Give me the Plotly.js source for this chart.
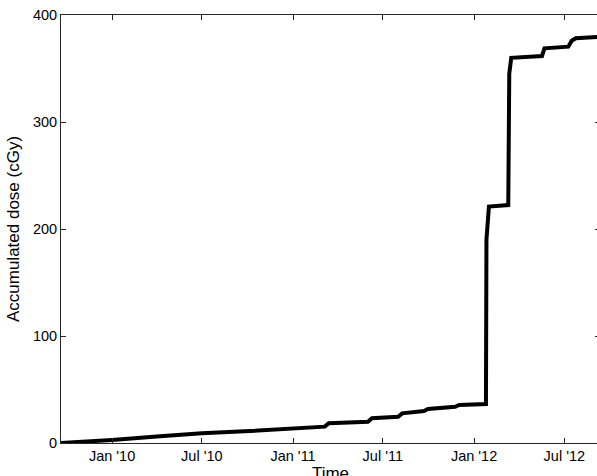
<!DOCTYPE html>
<html>
<head>
<meta charset="utf-8">
<script src="https://cdn.plot.ly/plotly-3.0.1.min.js"></script>
<style>
html, body { margin: 0; padding: 0; overflow: hidden; background: #fff; }
#chart { width: 610px; height: 490px; }
</style>
</head>
<body>
<div id="chart"></div>
<script>
// Accumulated dose time series
const dates = [
  '2009-09-20','2009-11-01','2010-01-01','2010-04-01','2010-07-01','2010-10-06',
  '2011-01-01','2011-03-06','2011-03-14','2011-06-01','2011-06-09','2011-08-01',
  '2011-08-09','2011-09-22','2011-09-30','2011-11-24','2011-12-02','2012-01-25',
  '2012-01-26','2012-01-28','2012-01-31','2012-03-10','2012-03-12','2012-03-16',
  '2012-05-17','2012-05-22','2012-07-09','2012-07-16','2012-07-24','2012-09-12'
];
const doses = [
  0, 1, 2.8, 6, 9, 11.2,
  13.5, 15.3, 18.4, 19.9, 23.1, 24.6,
  27.7, 29.9, 31.8, 33.9, 35.5, 36.4,
  190, 205, 221, 222.4, 345, 360,
  361.7, 368.9, 370.4, 376, 378.3, 379.6
];
const xTickVals = ['2010-01-01','2010-07-01','2011-01-01','2011-07-01','2012-01-01','2012-07-01'];
const xTickText = ["Jan '10","Jul '10","Jan '11","Jul '11","Jan '12","Jul '12"];
const yTickVals = [0, 100, 200, 300, 400];
const xRange = ['2009-09-20', '2012-09-11'];
const yRange = [0, 400];

const FONT = 'Liberation Sans, Arial, Helvetica, sans-serif';

const trace = {
  x: dates,
  y: doses,
  type: 'scatter',
  mode: 'lines',
  line: { color: '#000000', width: 4 },
  hoverinfo: 'skip'
};

const layout = {
  width: 610,
  height: 490,
  margin: { l: 61, r: 10, t: 15, b: 47 },
  paper_bgcolor: '#ffffff',
  plot_bgcolor: '#ffffff',
  showlegend: false,
  font: { family: FONT, size: 14.5, color: '#000000' },
  xaxis: {
    type: 'date',
    range: xRange,
    tickmode: 'array',
    tickvals: xTickVals,
    ticktext: xTickText,
    ticks: 'inside',
    ticklen: 5,
    tickwidth: 1,
    tickcolor: '#262626',
    showline: true,
    linecolor: '#262626',
    linewidth: 1,
    mirror: 'ticks',
    showgrid: false,
    zeroline: false,
    tickfont: { family: FONT, size: 14.5, color: '#000000' },
    title: { text: 'Time', font: { family: FONT, size: 17, color: '#000000' }, standoff: 0 }
  },
  yaxis: {
    range: yRange,
    tickmode: 'array',
    tickvals: yTickVals,
    ticks: 'inside',
    ticklen: 5,
    tickwidth: 1,
    tickcolor: '#262626',
    showline: true,
    linecolor: '#262626',
    linewidth: 1,
    mirror: 'ticks',
    showgrid: false,
    zeroline: false,
    tickfont: { family: FONT, size: 14.5, color: '#000000' },
    title: { text: 'Accumulated dose (cGy)', font: { family: FONT, size: 17, color: '#000000' }, standoff: 8 }
  }
};

Plotly.newPlot('chart', [trace], layout, { displayModeBar: false, staticPlot: true });
</script>
</body>
</html>
